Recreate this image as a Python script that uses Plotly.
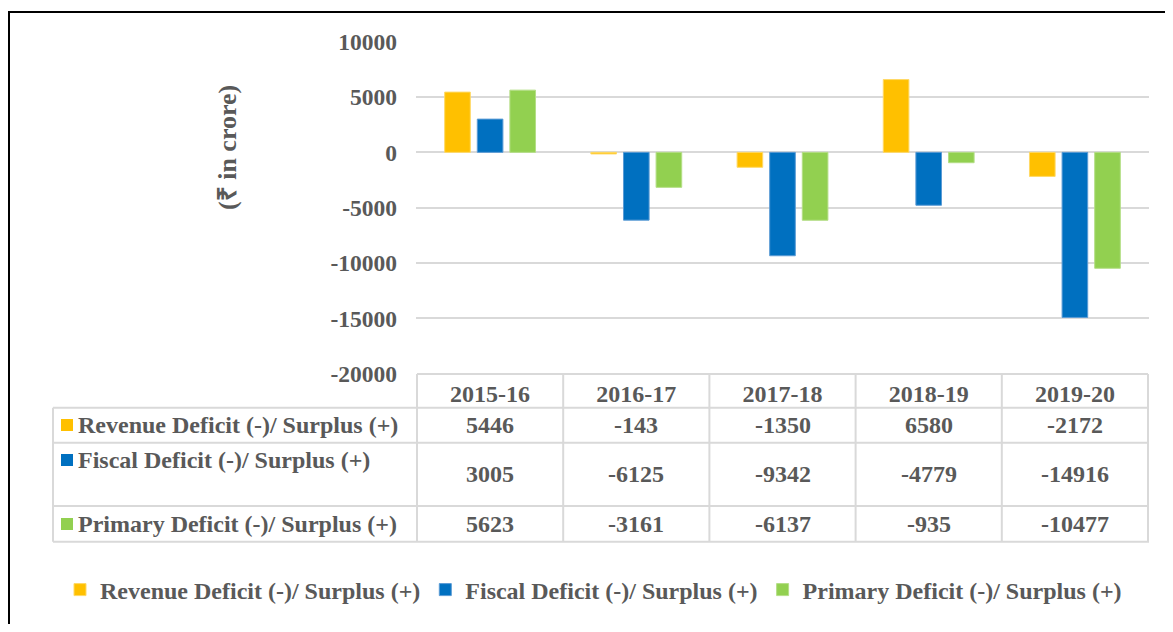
import plotly.graph_objects as go

years = ["2015-16", "2016-17", "2017-18", "2018-19", "2019-20"]
series_names = [
    "Revenue Deficit (-)/ Surplus (+)",
    "Fiscal Deficit (-)/ Surplus (+)",
    "Primary Deficit (-)/ Surplus (+)",
]
revenue = [5446, -143, -1350, 6580, -2172]
fiscal = [3005, -6125, -9342, -4779, -14916]
primary = [5623, -3161, -6137, -935, -10477]
colors = ["#FFC000", "#0070C0", "#92D050"]
edge_colors = ["#FFD966", "#5B9BD5", "#B4DE86"]
y_ticks = [10000, 5000, 0, -5000, -10000, -15000, -20000]

# page has an 8px body margin; figure sized to fit inside the window
OFF = 8
FW, FH = 1173 - 2 * OFF, 632 - 2 * OFF
def px(p):
    return (p - OFF) / FW
def py(p):
    return 1 - (p - OFF) / FH

FONT = "Liberation Serif, Times New Roman, serif"
TXT = "#595959"
GRID = "#d9d9d9"

fig = go.Figure()
all_series = [revenue, fiscal, primary]
for name, vals, c, ec in zip(series_names, all_series, colors, edge_colors):
    fig.add_trace(go.Bar(
        x=years, y=vals, name=name,
        marker=dict(color=c, line=dict(color=ec, width=1)),
        hoverinfo="x+y+name",
    ))

row_lines = [407.7, 442.7, 506.0, 541.7]
header_top = 374.0
value_y = [425, 474, 524]
label_y = [425, 460, 524]

shapes = []
shapes.append(dict(type="rect", xref="paper", yref="paper",
                   x0=px(9), x1=1.05, y0=-0.05, y1=py(12),
                   line=dict(color="#000000", width=2)))
shapes.append(dict(type="line", xref="x", yref="paper",
                   x0=-0.5, x1=len(years) - 0.5, y0=py(header_top), y1=py(header_top),
                   line=dict(color=GRID, width=2)))
for ry in row_lines:
    shapes.append(dict(type="line", xref="paper", yref="paper",
                       x0=px(53), x1=px(1149), y0=py(ry), y1=py(ry),
                       line=dict(color=GRID, width=2)))
shapes.append(dict(type="line", xref="paper", yref="paper",
                   x0=px(53), x1=px(53), y0=py(row_lines[0]), y1=py(row_lines[-1]),
                   line=dict(color=GRID, width=2)))
for i in range(len(years) + 1):
    shapes.append(dict(type="line", xref="x", yref="paper",
                       x0=i - 0.5, x1=i - 0.5, y0=py(header_top), y1=py(row_lines[-1]),
                       line=dict(color=GRID, width=2)))
for c, ly in zip(colors, label_y):
    shapes.append(dict(type="rect", xref="paper", yref="paper",
                       x0=px(61), x1=px(73), y0=py(ly + 6), y1=py(ly - 6),
                       fillcolor=c, line=dict(width=0)))

annotations = []
for name, ly in zip(series_names, label_y):
    annotations.append(dict(text=name, xref="paper", yref="paper",
                            x=px(76), y=py(ly), xanchor="left", yanchor="middle",
                            showarrow=False,
                            font=dict(family=FONT, size=24, color=TXT, weight="bold")))
for vals, vy in zip(all_series, value_y):
    for yr, v in zip(years, vals):
        annotations.append(dict(text=str(v), xref="x", yref="paper",
                                x=yr, y=py(vy), xanchor="center", yanchor="middle",
                                showarrow=False,
                                font=dict(family=FONT, size=24, color=TXT, weight="bold")))
annotations.append(dict(text="(₹ in crore)", xref="paper", yref="paper",
                        x=px(227), y=py(148), xanchor="center", yanchor="middle",
                        textangle=-90, showarrow=False,
                        font=dict(family=FONT, size=26, color=TXT, weight="bold")))

fig.update_layout(
    width=FW, height=FH,
    margin=dict(l=0, r=0, t=0, b=0, autoexpand=False),
    paper_bgcolor="white", plot_bgcolor="white",
    barmode="group", bargap=0.331, bargroupgap=0.214,
    showlegend=True,
    legend=dict(orientation="h", x=px(60), xanchor="left",
                y=py(590), yanchor="middle",
                font=dict(family=FONT, size=24, color=TXT, weight="bold"),
                bgcolor="rgba(0,0,0,0)"),
    xaxis=dict(domain=[px(416), px(1149)], type="category", automargin=False,
               showgrid=False, zeroline=False, showline=False,
               ticks="", ticklabelstandoff=3,
               tickfont=dict(family=FONT, size=24, color=TXT, weight="bold")),
    yaxis=dict(domain=[py(373.7), py(41.7)], range=[-20000, 10000], automargin=False,
               tickvals=y_ticks, ticktext=[str(t) for t in y_ticks],
               showgrid=True, gridcolor=GRID, gridwidth=2,
               zeroline=True, zerolinecolor=GRID, zerolinewidth=2,
               showline=False, ticks="", ticklabelstandoff=18,
               tickfont=dict(family=FONT, size=23.5, color=TXT, weight="bold")),
    shapes=shapes,
    annotations=annotations,
)

fig.write_html("out.html")
